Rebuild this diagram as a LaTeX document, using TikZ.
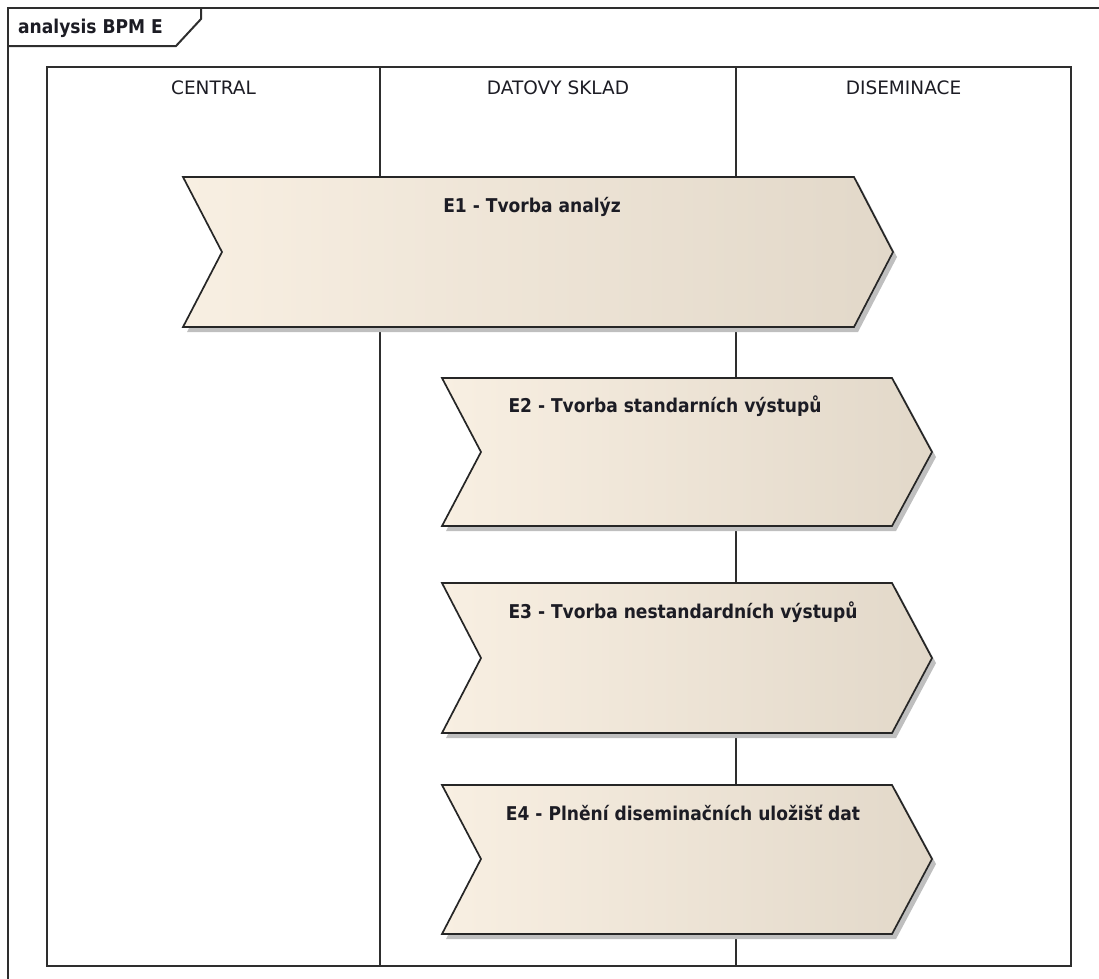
\documentclass[tikz,border=0pt]{standalone}
\usepackage{fontspec}
\setmainfont{DejaVu Sans Condensed}
\newfontfamily\headfont{DejaVu Sans}
\usetikzlibrary{shadows}
\definecolor{chevA}{HTML}{F8EFE2}
\definecolor{chevM}{HTML}{F5ECDF}
\definecolor{chevB}{HTML}{E2D8C9}
\definecolor{txt}{HTML}{1C1C24}
\definecolor{ink}{HTML}{2E2E2E}
\begin{document}
\begin{tikzpicture}[x=1pt,y=-1pt,
  frameline/.style={draw=ink, line width=2pt},
  lane/.style={draw=ink, line width=1.9pt},
  chev/.style={draw=black!85, line width=1.7pt, line join=miter,
    left color=chevA, middle color=chevM, right color=chevB,
    drop shadow={shadow xshift=4pt, shadow yshift=-5pt, fill=black!25, opacity=1}},
  lbl/.style={font=\bfseries\fontsize{19}{22}\selectfont, text=txt, inner sep=0pt, anchor=base},
  hdr/.style={font=\headfont\fontsize{18.5}{22}\selectfont, text=txt, inner sep=0pt, anchor=base}]
\useasboundingbox (0,0) rectangle (1099,978);

% diagram frame with its name tab
\draw[frameline] (8,990) -- (8,8) -- (1110,8);
\draw[frameline] (8,46) -- (176,46) -- (201,19) -- (201,8);
\node[lbl, anchor=base west] (title) at (18,33) {analysis BPM E};

% swimlane pool and lanes
\draw[lane] (47,67) rectangle (1071,966);
\draw[lane] (380,67) -- (380,966);
\draw[lane] (736,67) -- (736,966);
\node[hdr] (central) at (213.5,94) {CENTRAL};
\node[hdr] (sklad) at (558,94) {DATOVY SKLAD};
\node[hdr] (disem) at (903.5,94) {DISEMINACE};

% process chevrons
\path[chev] (183,177) -- (854,177) -- (893,252) -- (854,327) -- (183,327) -- (222,252) -- cycle;
\node[lbl] (e1) at (532,212) {E1 - Tvorba analýz};

\path[chev] (442,378) -- (892,378) -- (932,452) -- (892,526) -- (442,526) -- (481,452) -- cycle;
\node[lbl] (e2) at (665,412) {E2 - Tvorba standarních výstupů};

\path[chev] (442,583) -- (892,583) -- (932,658) -- (892,733) -- (442,733) -- (481,658) -- cycle;
\node[lbl] (e3) at (683,618) {E3 - Tvorba nestandardních výstupů};

\path[chev] (442,785) -- (892,785) -- (932,859) -- (892,934) -- (442,934) -- (481,859) -- cycle;
\node[lbl] (e4) at (683,820) {E4 - Plnění diseminačních uložišť dat};
\end{tikzpicture}
\end{document}
